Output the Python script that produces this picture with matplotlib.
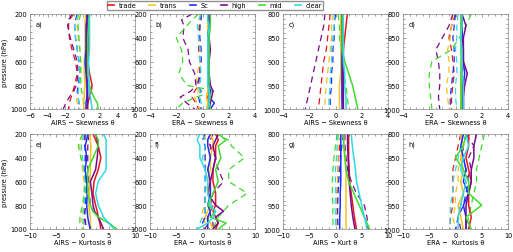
import numpy as np
import matplotlib
matplotlib.use("Agg")
import matplotlib.pyplot as plt
from matplotlib.ticker import MultipleLocator
from matplotlib.lines import Line2D

CATEGORIES = ["trade", "trans", "Sc", "high", "mid", "clear"]
COLORS = ["#e8161b", "#f5c21b", "#1a2cff", "#7a0a8a", "#3fdc2f", "#2fd9e6"]

P_FULL = [200, 250, 300, 400, 500, 600, 700, 800, 850, 900, 950, 1000]
P_LOW = [800, 825, 850, 875, 900, 925, 950, 975, 1000]

# ---- panel a: AIRS skewness, full column ----
a_solid = [[0.7,0.6,0.6,0.7,0.7,0.6,0.8,1.1,1.0,0.8,0.6,0.6],
           [0.4,0.3,0.3,0.3,0.3,0.2,0.2,0.3,0.2,0.2,0.1,0.2],
           [0.5,0.5,0.4,0.4,0.4,0.3,0.4,0.5,0.5,0.5,0.4,0.4],
           [0.6,0.6,0.5,0.5,0.5,0.5,0.5,0.6,0.6,0.6,0.6,0.5],
           [0.8,0.7,0.7,0.6,0.6,0.6,0.6,0.8,1.0,1.3,1.7,1.8],
           [0.8,0.8,0.8,0.8,0.8,0.7,0.7,0.7,0.8,0.9,1.0,1.1]]
a_dash = [[-1.0,-1.5,-1.6,-1.5,-1.2,-0.8,-0.6,-0.9,-1.1,-1.3,-1.5,-1.6],
          [-0.4,-0.6,-0.6,-0.5,-0.3,-0.2,-0.2,-0.4,-0.5,-0.7,-0.6,-0.3],
          [-0.6,-0.8,-0.9,-0.8,-0.6,-0.4,-0.3,-0.5,-0.6,-0.5,-0.4,-0.3],
          [-1.2,-1.6,-1.7,-1.4,-1.0,-0.6,-0.5,-0.7,-1.0,-1.5,-1.9,-2.2],
          [-0.2,-0.4,-0.5,-0.4,-0.3,-0.2,-0.2,-0.2,-0.1,0.0,0.2,0.2],
          [-0.5,-0.7,-0.9,-0.8,-0.6,-0.4,-0.3,-0.4,-0.5,-0.5,-0.4,-0.3]]

# ---- panel b: ERA skewness, full column ----
b_solid = [[0.5,0.5,0.5,0.5,0.5,0.4,0.5,0.5,0.5,0.4,0.5,0.5],
           [0.4,0.4,0.4,0.4,0.4,0.4,0.4,0.4,0.4,0.3,0.4,0.3],
           [0.5,0.5,0.5,0.4,0.4,0.4,0.4,0.5,0.6,0.5,0.9,0.6],
           [0.5,0.5,0.5,0.5,0.6,0.5,0.5,0.6,0.8,0.7,0.6,0.5],
           [0.6,0.6,0.6,0.5,0.5,0.5,0.5,0.5,0.5,0.6,0.5,0.6],
           [0.4,0.4,0.5,0.4,0.4,0.4,0.4,0.4,0.5,0.5,0.5,0.4]]
b_dash = [[-0.1,-0.2,-0.2,-0.3,-0.3,-0.2,-0.2,-0.3,-0.6,-0.8,-0.5,-0.3],
          [-0.2,-0.2,-0.3,-0.3,-0.2,-0.2,-0.4,-0.5,-0.3,-0.6,-0.4,-0.2],
          [-0.1,-0.1,-0.2,-0.2,-0.1,-0.1,-0.2,-0.4,-0.1,-0.3,-0.2,-0.1],
          [-0.8,-1.6,-1.4,-1.5,-1.1,-1.0,-0.6,-0.5,-0.9,-1.7,-1.2,-0.6],
          [-0.3,-0.8,-1.2,-2.0,-1.6,-1.5,-1.8,-1.2,1.0,-0.5,-1.5,-2.0],
          [-0.1,-0.3,-0.4,-0.3,-0.2,-0.2,-0.1,-0.2,-0.2,-0.2,-0.1,0.0]]

# ---- panel c: AIRS skewness, lower levels ----
c_solid = [[0.9,0.8,0.7,0.6,0.5,0.5,0.5,0.5,0.6],
           [0.4,0.4,0.4,0.4,0.4,0.4,0.3,0.3,0.3],
           [0.5,0.5,0.5,0.5,0.5,0.5,0.5,0.5,0.5],
           [0.5,0.5,0.5,0.6,0.6,0.6,0.6,0.6,0.6],
           [0.5,0.5,0.5,0.5,0.7,1.0,1.3,1.5,1.7],
           [0.6,0.6,0.6,0.6,0.6,0.7,0.7,0.8,0.8]]
c_dash = [[-0.4,-0.5,-0.6,-0.7,-0.9,-1.0,-1.1,-1.2,-1.3],
          [-0.2,-0.3,-0.3,-0.4,-0.5,-0.6,-0.7,-0.8,-0.8],
          [0.0,-0.1,-0.1,-0.2,-0.2,-0.3,-0.3,-0.4,-0.4],
          [-0.8,-0.9,-1.1,-1.3,-1.5,-1.7,-1.9,-2.1,-2.3],
          [0.2,0.3,0.3,0.4,0.5,0.6,0.8,0.9,1.0],
          [-0.1,-0.1,-0.2,-0.3,-0.3,-0.4,-0.4,-0.5,-0.5]]

# ---- panel d: ERA skewness, lower levels ----
d_solid = [[0.5,0.5,0.5,0.6,0.6,0.5,0.5,0.5,0.5],
           [0.4,0.4,0.4,0.5,0.5,0.4,0.4,0.4,0.4],
           [0.5,0.5,0.5,0.5,0.6,0.7,0.6,0.6,0.6],
           [0.5,0.8,0.6,0.6,0.6,0.9,0.7,0.6,0.6],
           [0.4,0.4,0.4,0.4,0.4,0.4,0.4,0.4,0.4],
           [0.5,0.5,0.4,0.5,0.5,0.5,0.6,0.6,0.6]]
d_dash = [[0.0,-0.3,-0.5,-0.3,-0.2,-0.1,-0.2,-0.3,-0.3],
          [-0.2,-0.3,-0.4,-0.6,-0.5,-0.5,-0.7,-0.6,-0.5],
          [0.0,-0.1,-0.2,-0.1,-0.1,-0.2,-0.3,-0.4,-0.4],
          [-0.2,-0.5,-1.0,-1.5,-1.3,-1.2,-1.2,-1.3,-1.2],
          [1.2,0.8,0.3,-0.3,-1.8,-2.0,-2.0,-1.9,-1.8],
          [0.2,0.1,0.1,0.0,0.1,0.1,0.0,0.0,0.1]]

# ---- panel e: AIRS kurtosis, full column ----
e_solid = [[2.0,2.5,3.0,3.5,3.0,2.2,2.0,2.5,2.8,3.0,3.3,3.5],
           [1.5,1.5,1.6,1.5,1.5,1.4,1.3,1.2,1.3,1.5,1.5,1.6],
           [1.0,0.8,0.5,0.8,0.5,0.8,0.9,0.8,0.9,1.0,1.2,1.5],
           [2.5,2.8,3.0,2.8,2.5,1.5,1.8,2.0,2.3,3.0,3.5,4.0],
           [2.5,3.0,3.0,2.0,1.0,1.0,1.0,1.5,2.0,3.0,5.0,6.5],
           [4.0,4.5,4.5,4.5,4.5,3.0,2.5,3.0,3.5,4.0,5.0,6.0]]
e_dash = [[0.5,0.3,0.5,0.6,0.5,0.8,0.7,0.6,0.5,0.3,0.5,0.5],
          [0.0,-0.3,-0.5,-0.3,0.0,0.3,0.3,0.2,0.0,-0.3,0.0,0.3],
          [0.5,0.5,0.5,0.5,0.5,0.6,0.7,0.5,0.4,0.5,0.6,0.8],
          [1.0,1.2,1.0,1.0,1.0,1.2,1.3,1.5,2.0,3.0,5.0,6.5],
          [0.0,-0.5,-0.8,-0.3,0.3,0.5,0.3,0.0,-0.3,-0.5,-0.5,0.0],
          [0.2,0.0,-0.2,0.0,0.3,0.5,0.5,0.3,0.2,0.0,0.2,0.3]]

# ---- panel f: ERA kurtosis, full column ----
f_solid = [[2.5,3.0,2.5,2.5,2.0,2.0,2.5,2.5,2.0,2.5,3.0,2.5],
           [1.5,2.0,2.0,1.5,1.5,1.0,1.5,1.5,1.0,0.5,1.5,2.0],
           [1.5,1.0,1.0,1.5,1.0,1.5,1.5,1.0,1.5,1.0,1.0,1.0],
           [3.0,2.5,2.0,2.5,2.0,1.5,1.0,2.5,4.0,2.5,3.0,2.0],
           [3.0,4.5,3.0,3.5,2.5,3.0,2.0,1.0,2.5,1.5,4.5,3.0],
           [-0.5,-1.0,-0.5,-0.5,0.5,1.0,1.0,1.5,2.5,2.0,1.0,-1.0]]
f_dash = [[1.5,1.0,1.5,1.5,1.0,1.5,1.0,2.0,1.5,1.0,1.0,0.5],
          [0.5,0.5,0.5,0.5,0.5,1.0,0.5,0.5,0.0,0.0,0.5,1.0],
          [0.5,0.0,0.5,0.5,0.5,0.5,0.5,0.5,0.5,0.5,0.0,0.5],
          [2.0,1.5,1.5,2.5,3.0,4.0,2.0,1.5,1.5,1.5,2.0,2.0],
          [2.0,5.0,5.5,8.0,5.0,5.0,8.5,5.0,4.0,3.0,2.5,2.0],
          [0.0,0.5,0.5,0.0,0.5,0.5,0.5,0.5,0.5,0.0,-0.5,-1.0]]

# ---- panel g: AIRS kurtosis, lower levels ----
g_solid = [[2.5,2.5,2.5,2.6,2.7,3.0,3.3,3.6,4.0],
           [1.5,1.6,1.8,2.0,2.0,2.0,2.0,2.0,2.0],
           [1.0,1.0,1.0,1.0,1.0,0.9,0.9,0.8,0.8],
           [2.3,2.3,2.4,2.5,2.6,2.8,3.0,3.3,3.7],
           [1.5,1.6,1.8,2.0,2.5,3.5,4.5,5.5,6.5],
           [3.0,3.2,3.5,3.8,4.0,4.5,5.0,5.5,6.0]]
g_dash = [[1.0,0.8,0.6,0.5,0.4,0.3,0.3,0.3,0.3],
          [0.5,0.5,0.5,0.5,0.4,0.3,0.2,0.2,0.2],
          [1.5,1.2,1.0,0.8,0.6,0.5,0.4,0.4,0.5],
          [1.8,1.8,2.0,2.3,3.0,4.0,5.5,6.0,6.2],
          [0.3,0.0,-0.3,-0.5,-0.6,-0.6,-0.5,-0.5,-0.5],
          [0.5,0.3,0.2,0.0,0.0,0.0,-0.1,0.0,0.0]]

# ---- panel h: ERA kurtosis, lower levels ----
h_solid = [[2.5,2.5,2.0,2.5,3.0,2.5,2.5,3.0,2.5],
           [1.0,1.5,1.0,1.5,1.0,1.5,0.5,1.0,1.5],
           [1.5,1.0,1.5,2.0,1.5,2.5,1.5,2.0,2.0],
           [4.0,3.5,3.5,3.0,3.0,2.5,2.0,2.0,2.0],
           [2.0,1.5,0.0,1.5,2.5,2.5,5.0,2.0,3.0],
           [2.0,2.5,1.5,1.0,2.0,1.5,1.0,0.5,0.5]]
h_dash = [[1.0,0.5,0.0,-0.5,-0.5,-0.5,-0.5,-1.0,-1.0],
          [1.0,1.5,1.0,0.5,0.5,0.0,0.0,-0.5,0.0],
          [2.0,1.5,1.5,2.0,2.5,2.0,1.5,0.5,0.0],
          [2.0,3.5,2.5,3.0,2.0,1.5,1.0,0.5,1.0],
          [5.5,5.0,4.5,4.0,4.0,3.5,3.0,2.5,2.0],
          [1.5,1.0,0.5,0.0,-0.5,-0.5,-1.0,-1.0,-1.0]]

PANEL_LABELS = ["a)", "b)", "c)", "d)", "e)", "f)", "g)", "h)"]
X_LABELS = ["AIRS \u2212 Skewness \u03b8", "ERA \u2212 Skewness \u03b8",
            "AIRS \u2212 Skewness \u03b8", "ERA \u2212 Skewness \u03b8",
            "AIRS \u2212 Kurtosis \u03b8", "ERA \u2212  Kurtosis \u03b8",
            "AIRS \u2212 Kurt \u03b8", "ERA \u2212  Kurtosis \u03b8"]

panels = [
    (a_solid, a_dash, P_FULL, (-6, 6), 2),
    (b_solid, b_dash, P_FULL, (-4, 4), 2),
    (c_solid, c_dash, P_LOW, (-4, 4), 2),
    (d_solid, d_dash, P_LOW, (-4, 4), 2),
    (e_solid, e_dash, P_FULL, (-10, 10), 5),
    (f_solid, f_dash, P_FULL, (-10, 10), 5),
    (g_solid, g_dash, P_LOW, (-10, 10), 5),
    (h_solid, h_dash, P_LOW, (-10, 10), 5),
]

W, H = 513, 253
fig = plt.figure(figsize=(W / 100, H / 100), dpi=100)
plt.rcParams['font.family'] = ['DejaVu Sans']

lefts = [30, 150, 283, 403]
tops = [15, 135]
aw, ah = 105, 95
FS = 4.8

for i, (sol, das, p, xlim, xstep) in enumerate(panels):
    r, c = divmod(i, 4)
    ax = fig.add_axes([lefts[c] / W, 1 - (tops[r] + ah) / H, aw / W, ah / H])
    for k in range(6):
        ax.plot(das[k], p, color=COLORS[k], lw=0.9, ls=(0, (5, 3.5)))
    for k in range(6):
        ax.plot(sol[k], p, color=COLORS[k], lw=1.1)
    ax.set_xlim(*xlim)
    if p is P_FULL:
        ax.set_ylim(1000, 200)
        ax.yaxis.set_major_locator(MultipleLocator(200))
        ax.yaxis.set_minor_locator(MultipleLocator(50))
    else:
        ax.set_ylim(1000, 800)
        ax.yaxis.set_major_locator(MultipleLocator(50))
        ax.yaxis.set_minor_locator(MultipleLocator(10))
    ax.xaxis.set_major_locator(MultipleLocator(xstep))
    ax.xaxis.set_minor_locator(MultipleLocator(xstep / 4))
    ax.tick_params(which='both', direction='in', top=True, right=True,
                   labelsize=FS, pad=2, width=0.4, color='#555555')
    ax.tick_params(which='major', length=2.5)
    ax.tick_params(which='minor', length=1.2)
    for s in ax.spines.values():
        s.set_linewidth(0.5)
        s.set_color('#888888')
    ax.set_xlabel(X_LABELS[i], fontsize=FS, labelpad=1)
    if c == 0:
        ax.set_ylabel("pressure (hPa)", fontsize=FS, labelpad=2)
    ax.text(0.05, 0.93, PANEL_LABELS[i], transform=ax.transAxes,
            fontsize=FS, va='top', ha='left')

handles = [Line2D([0], [0], color=col, lw=1.2) for col in COLORS]
fig.legend(handles, CATEGORIES, loc='upper center', ncol=6,
           bbox_to_anchor=(215 / W, 1.005), fontsize=FS, handlelength=0.9,
           handletextpad=0.7, columnspacing=1.9, frameon=True,
           borderpad=0.2, fancybox=False, edgecolor='#777777')

fig.savefig("out.png", dpi=100)
